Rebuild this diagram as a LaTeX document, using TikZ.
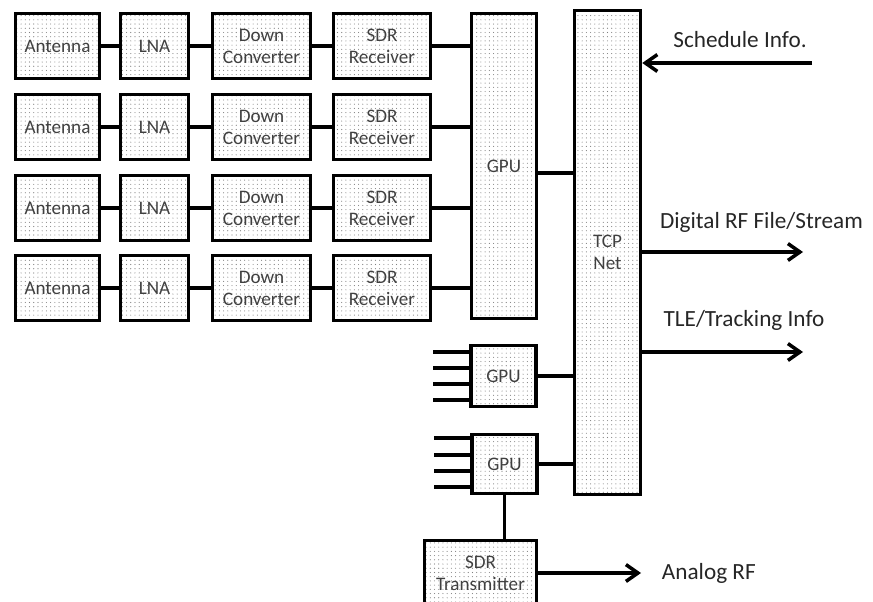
\documentclass[tikz,border=0pt]{standalone}
\usepackage{fontspec}
\setmainfont{Carlito}
\usetikzlibrary{arrows.meta,patterns.meta}

\begin{document}
\begin{tikzpicture}[
  x=0.025cm, y=-0.025cm,
  blk/.style={rectangle, draw=black, line width=2.5pt, pattern={Dots[distance=3pt, radius=0.4pt]}, pattern color=black!50,
    inner sep=0pt, align=center, text=black!75, font=\fontsize{13.6}{15.6}\selectfont, minimum height=1.63cm},
  ant/.style={blk, minimum width=2.1cm},
  lna/.style={blk, minimum width=1.7cm},
  dconv/.style={blk, minimum width=2.45cm},
  rx/.style={blk, minimum width=2.43cm},
  link/.style={line width=2.5pt},
  feed/.style={line width=2.5pt, -{Straight Barb[length=3mm, width=4.2mm, line width=2.5pt]}},
  lab/.style={font=\fontsize{16.5}{19}\selectfont, text=black!85},
]
\useasboundingbox (0,0) rectangle (873,602);
% receive chains
\node[ant] (ant1) at (57.5,46) {Antenna};
\node[lna] (lna1) at (154.5,46) {LNA};
\node[dconv] (dc1) at (261.5,46) {Down\\Converter};
\node[rx] (rx1) at (382,46) {SDR\\Receiver};
\node[ant] (ant2) at (57.5,127) {Antenna};
\node[lna] (lna2) at (154.5,127) {LNA};
\node[dconv] (dc2) at (261.5,127) {Down\\Converter};
\node[rx] (rx2) at (382,127) {SDR\\Receiver};
\node[ant] (ant3) at (57.5,208) {Antenna};
\node[lna] (lna3) at (154.5,208) {LNA};
\node[dconv] (dc3) at (261.5,208) {Down\\Converter};
\node[rx] (rx3) at (382,208) {SDR\\Receiver};
\node[ant] (ant4) at (57.5,288) {Antenna};
\node[lna] (lna4) at (154.5,288) {LNA};
\node[dconv] (dc4) at (261.5,288) {Down\\Converter};
\node[rx] (rx4) at (382,288) {SDR\\Receiver};
% processing
\node[blk, minimum width=1.63cm, minimum height=7.63cm] (gpu) at (504,166) {GPU};
\node[blk, minimum width=1.65cm, minimum height=12.1cm] (tcp) at (607.5,252.5) {TCP\\Net};
\node[blk, minimum width=1.63cm, minimum height=1.53cm] (gpuA) at (503.5,376) {GPU};
\node[blk, minimum width=1.63cm, minimum height=1.48cm] (gpuB) at (504.5,464) {GPU};
\node[blk, minimum width=2.8cm] (tx) at (480.5,573) {SDR\\Transmitter};
\draw[link] (ant1) -- (lna1); \draw[link] (lna1) -- (dc1); \draw[link] (dc1) -- (rx1);
\draw[link] (ant2) -- (lna2); \draw[link] (lna2) -- (dc2); \draw[link] (dc2) -- (rx2);
\draw[link] (ant3) -- (lna3); \draw[link] (lna3) -- (dc3); \draw[link] (dc3) -- (rx3);
\draw[link] (ant4) -- (lna4); \draw[link] (lna4) -- (dc4); \draw[link] (dc4) -- (rx4);
\draw[link] (rx1.east) -- (rx1.east -| gpu.west);
\draw[link] (rx2.east) -- (rx2.east -| gpu.west);
\draw[link] (rx3.east) -- (rx3.east -| gpu.west);
\draw[link] (rx4.east) -- (rx4.east -| gpu.west);
\draw[link] ([yshift=-0.18cm]gpu.east) -- ([yshift=-0.18cm]gpu.east -| tcp.west);
\draw[link] (gpuA.east) -- (gpuA.east -| tcp.west);
\draw[link] (gpuB.east) -- (gpuB.east -| tcp.west);
\draw[link] (gpuB.south) -- (gpuB.south |- tx.north);
\foreach \i/\y in {1/352,2/368,3/384,4/400} {
  \coordinate (sA\i) at (433,\y);
  \draw[link] (sA\i) -- (sA\i -| gpuA.west);
}
\foreach \i/\y in {1/438,2/455,3/471,4/487} {
  \coordinate (sB\i) at (434,\y);
  \draw[link] (sB\i) -- (sB\i -| gpuB.west);
}
% external flows
\coordinate (sched) at (812,63);
\coordinate (drf) at (803,252);
\coordinate (tle) at (803,352);
\coordinate (arf) at (641,573);
\draw[feed] (sched) -- (sched -| tcp.east);
\draw[feed] (drf -| tcp.east) -- (drf);
\draw[feed] (tle -| tcp.east) -- (tle);
\draw[feed] (tx.east) -- (arf);
\node[lab] (tsched) at (740,40) {Schedule Info.};
\node[lab] (tdrf) at (761.5,222) {Digital RF File/Stream};
\node[lab] (ttle) at (744,320) {TLE/Tracking Info};
\node[lab, anchor=west] (tarf) at (657,573) {Analog RF};
\end{tikzpicture}
\end{document}
